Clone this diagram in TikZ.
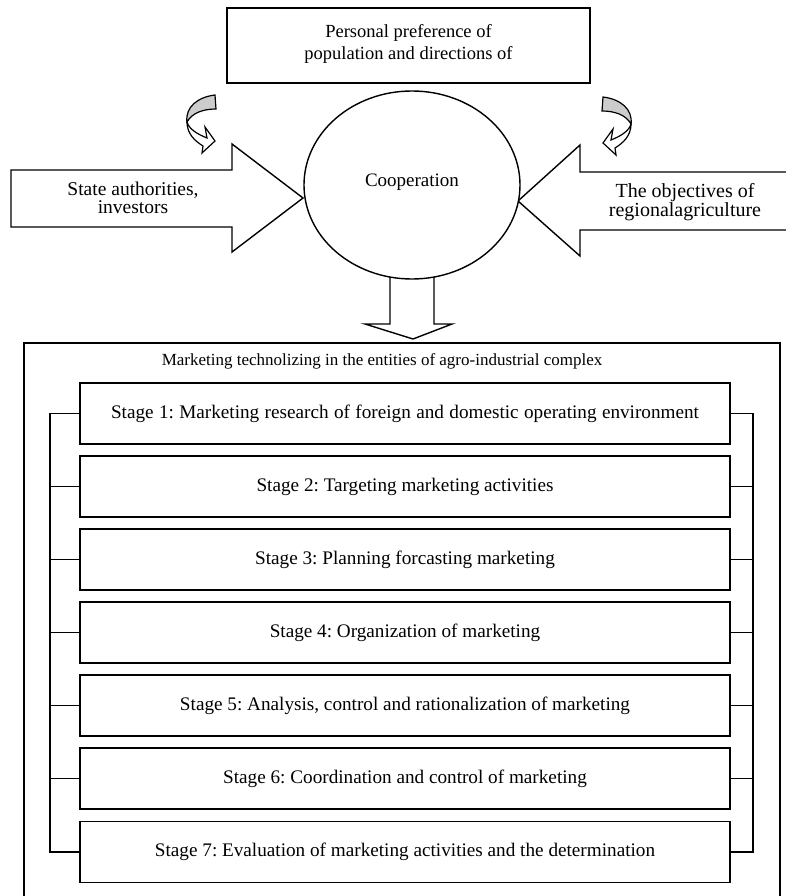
\documentclass[tikz,border=0pt]{standalone}
\usepackage{fontspec}
\setmainfont{Liberation Serif}
\usetikzlibrary{shapes.geometric}
\frenchspacing
\begin{document}
\begin{tikzpicture}[x=1pt,y=-1pt,line width=1.4pt,line join=miter,
  txt/.style={align=center,inner sep=0pt},
  stagebox/.style={draw,fill=white,minimum width=650pt,minimum height=61pt,font=\fontsize{19.2}{22}\selectfont,inner sep=0pt},
  curl/.style={draw=black,line width=1.2pt}]
\useasboundingbox (0,0) rectangle (786,896);
\fill[white] (0,0) rectangle (786,896);
% top box
\node[draw,minimum width=363pt,minimum height=75pt,inner sep=0pt] (top) at (408.5,45.5) {};
\node[txt,font=\fontsize{18.5}{22}\selectfont] (toptxt) at (408.5,44) {Personal preference of\\population and directions of};
% curved arrows
\begin{scope}
  \filldraw[fill=gray!40,curl] (215,95) .. controls (198,97) and (185,107) .. (187,122)
     .. controls (192,113) and (203,109) .. (216,109) -- cycle;
  \filldraw[fill=white,curl] (187,122) .. controls (187,134) and (195,141) .. (203,146)
     -- (202,153) -- (215,141) -- (205,127) -- (207,138)
     .. controls (197,134) and (189,129) .. (187,122) -- cycle;
\end{scope}
\begin{scope}[xshift=818pt,xscale=-1,yshift=-2pt]
  \filldraw[fill=gray!40,curl] (215,95) .. controls (198,97) and (185,107) .. (187,122)
     .. controls (192,113) and (203,109) .. (216,109) -- cycle;
  \filldraw[fill=white,curl] (187,122) .. controls (187,134) and (195,141) .. (203,146)
     -- (202,153) -- (215,141) -- (205,127) -- (207,138)
     .. controls (197,134) and (189,129) .. (187,122) -- cycle;
\end{scope}
% big arrows
\filldraw[fill=white] (11,170) -- (232,170) -- (232,144) -- (303,198) -- (232,252) -- (232,227) -- (11,227) -- cycle;
\node[txt,font=\fontsize{19.5}{18.5}\selectfont] (lefttxt) at (133,198) {State authorities,\\investors};
\filldraw[fill=white] (790,172) -- (580,172) -- (580,145) -- (518,201) -- (580,256) -- (580,230) -- (790,230);
\node[txt,font=\fontsize{20}{19.5}\selectfont] (righttxt) at (685,202) {The objectives of\\regionalagriculture};
% down arrow
\filldraw[fill=white] (390,265) -- (390,324) -- (365,324) -- (413,339) -- (452,324) -- (434,324) -- (434,265) -- cycle;
% cooperation
\node[draw,fill=white,ellipse,minimum width=216pt,minimum height=188pt,inner sep=0pt] (coop) at (412,185) {};
\node[txt,font=\fontsize{19}{22}\selectfont] (cooptxt) at (412,182) {Cooperation};
% outer box
\draw (24,905) -- (24,343) -- (780,343) -- (780,905);
\node[txt,font=\fontsize{17}{20}\selectfont] (title) at (382,361) {Marketing technolizing in the entities of agro-industrial complex};
% stages
\node[stagebox] (s1) at (405,413.5) {\makebox[588pt][s]{Stage 1: Marketing research of foreign and domestic operating environment}};
\node[stagebox] (s2) at (405,486.5) {Stage 2: Targeting marketing activities};
\node[stagebox] (s3) at (405,559.5) {Stage 3: Planning forcasting marketing};
\node[stagebox] (s4) at (405,632.5) {Stage 4: Organization of marketing};
\node[stagebox] (s5) at (405,705.5) {Stage 5: Analysis, control and rationalization of marketing};
\node[stagebox] (s6) at (405,778.5) {Stage 6: Coordination and control of marketing};
\node[stagebox] (s7) at (405,852) {Stage 7: Evaluation of marketing activities and the determination};
\coordinate (busL) at (50,0);
\coordinate (busR) at (753,0);
\draw (s1.west) -- (s1.west -| busL) -- (s7.west -| busL) -- (s7.west);
\draw (s1.east) -- (s1.east -| busR) -- (s7.east -| busR) -- (s7.east);
\foreach \s in {s2,s3,s4,s5,s6}{
  \draw (\s.west) -- (\s.west -| busL);
  \draw (\s.east) -- (\s.east -| busR);
}
\end{tikzpicture}
\end{document}
